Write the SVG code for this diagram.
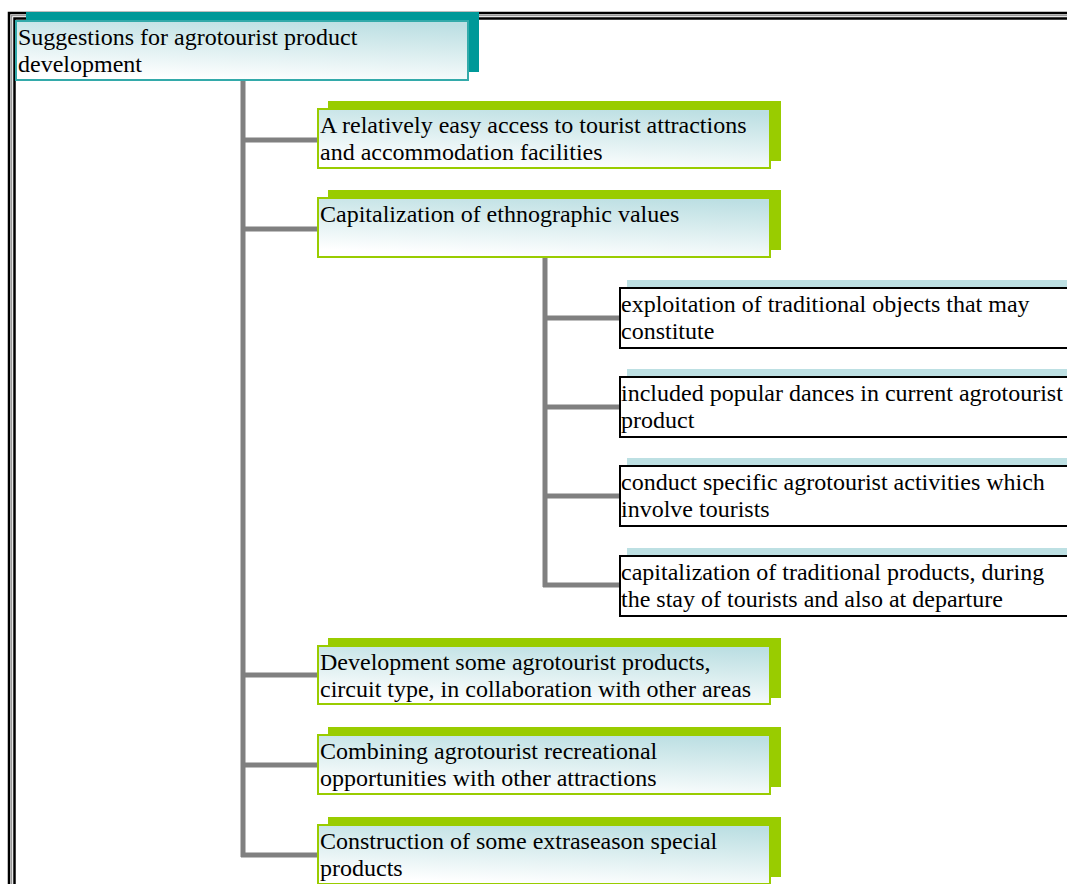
<svg xmlns="http://www.w3.org/2000/svg" width="1067" height="884" viewBox="0 0 1067 884">
<defs>
<linearGradient id="g" x1="0.75" y1="0" x2="0.45" y2="1">
<stop offset="0" stop-color="#bcdfe3"/>
<stop offset="0.35" stop-color="#d3eaec"/>
<stop offset="1" stop-color="#ffffff"/>
</linearGradient>
<style>
.t{font-family:"Liberation Serif","Times New Roman",serif;font-size:24px;fill:#000}
.conn{stroke:#808080;stroke-width:5;fill:none}
.rootsh{fill:#009999}
.root{fill:url(#g);stroke:#33aaaa;stroke-width:2}
.gsh{fill:#99cc00}
.gn{fill:url(#g);stroke:#99cc00;stroke-width:2}
.wsh{fill:#bde0e3}
.wn{fill:#fff;stroke:#000;stroke-width:2}
.frame{stroke:#000;fill:none}
</style>
</defs>
<rect width="1067" height="884" fill="#fff"/>
<g id="frame">
<path class="frame" stroke-width="2.5" d="M9 884V13H1067"/>
<path stroke="#999" stroke-width="1.5" fill="none" d="M11.5 884V15.5H1067"/>
<path class="frame" stroke-width="2.5" d="M14.5 884V18.5H1067"/>
</g>
<g id="connectors">
<path class="conn" d="M243 80V857M241 140H318M241 229H318M241 675H318M241 765H318M241 855H318"/>
<path class="conn" d="M545 258V587M543 318H620M543 407H620M543 496H620M543 585H620"/>
</g>
<g id="root">
<rect class="rootsh" x="26" y="12" width="453" height="60"/>
<rect class="root" x="16" y="21" width="452" height="59"/>
<text class="t" x="18" y="45">Suggestions for agrotourist product</text>
<text class="t" x="18" y="72">development</text>
</g>
<g id="n1">
<rect class="gsh" x="328" y="101" width="453" height="60"/>
<rect class="gn" x="318" y="109" width="452" height="59"/>
<text class="t" x="320" y="133">A relatively easy access to tourist attractions</text>
<text class="t" x="320" y="160">and accommodation facilities</text>
</g>
<g id="n2">
<rect class="gsh" x="328" y="190" width="453" height="60"/>
<rect class="gn" x="318" y="198" width="452" height="59"/>
<text class="t" x="320" y="222">Capitalization of ethnographic values</text>
</g>
<g id="s1">
<rect class="wsh" x="627" y="280" width="450" height="62"/>
<rect class="wn" x="620" y="288" width="460" height="60"/>
<text class="t" x="621" y="312">exploitation of traditional objects that may</text>
<text class="t" x="621" y="339">constitute</text>
</g>
<g id="s2">
<rect class="wsh" x="627" y="369" width="450" height="62"/>
<rect class="wn" x="620" y="377" width="460" height="60"/>
<text class="t" x="621" y="401">included popular dances in current agrotourist</text>
<text class="t" x="621" y="428">product</text>
</g>
<g id="s3">
<rect class="wsh" x="627" y="458" width="450" height="62"/>
<rect class="wn" x="620" y="466" width="460" height="60"/>
<text class="t" x="621" y="490">conduct specific agrotourist activities which</text>
<text class="t" x="621" y="517">involve tourists</text>
</g>
<g id="s4">
<rect class="wsh" x="627" y="548" width="450" height="62"/>
<rect class="wn" x="620" y="556" width="460" height="60"/>
<text class="t" x="621" y="580">capitalization of traditional products, during</text>
<text class="t" x="621" y="607">the stay of tourists and also at departure</text>
</g>
<g id="n3">
<rect class="gsh" x="328" y="638" width="453" height="60"/>
<rect class="gn" x="318" y="646" width="452" height="58"/>
<text class="t" x="320" y="670">Development some agrotourist products,</text>
<text class="t" x="320" y="697">circuit type, in collaboration with other areas</text>
</g>
<g id="n4">
<rect class="gsh" x="328" y="727" width="453" height="60"/>
<rect class="gn" x="318" y="735" width="452" height="59"/>
<text class="t" x="320" y="759">Combining agrotourist recreational</text>
<text class="t" x="320" y="786">opportunities with other attractions</text>
</g>
<g id="n5">
<rect class="gsh" x="328" y="817" width="453" height="60"/>
<rect class="gn" x="318" y="825" width="452" height="59"/>
<text class="t" x="320" y="849">Construction of some extraseason special</text>
<text class="t" x="320" y="876">products</text>
</g>
</svg>
